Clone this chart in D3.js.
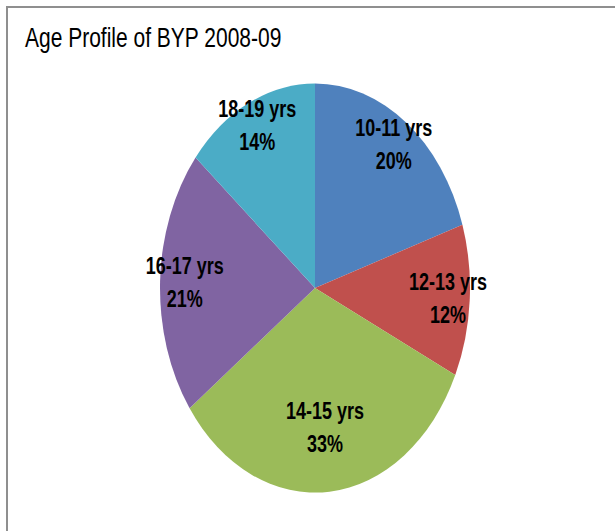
<!DOCTYPE html>
<html>
<head>
<meta charset="utf-8">
<script src="https://cdn.jsdelivr.net/npm/d3@7"></script>
<style>
  body { margin: 0; background: #fff; }
  svg { display: block; }
</style>
</head>
<body>
<script>
// data
var ageBands = ['10-11 yrs', '12-13 yrs', '14-15 yrs', '16-17 yrs', '18-19 yrs'];
var shares = [20, 12, 33, 21, 14];
var sliceColours = ['#4F81BD', '#C0504D', '#9BBB59', '#8064A2', '#4BACC6'];
var chartTitle = 'Age Profile of BYP 2008-09';

var dataset = ageBands.map(function(d, i){
  return { band: d, pct: shares[i] };
});

var w = 615, h = 531;
var stretch = 1.32;         // source picture is stretched vertically
var outerRadius = 155;
var cx = 315, cy = 288;
var labelFrac = [0.865, 0.86, 0.685, 0.84, 0.875]; // best-fit spots

var svg = d3.select('body')
            .append('svg')
            .attr('width', w)
            .attr('height', h);

// outer frame, right and bottom run off the picture
svg.append('rect')
   .attr('x', 7)
   .attr('y', 7)
   .attr('width', 640)
   .attr('height', 560)
   .attr('fill', 'none')
   .attr('stroke', '#8f8f8f')
   .attr('stroke-width', 2);

var root = svg.append('g')
              .attr('transform', 'scale(1,' + stretch + ')');

root.append('text')
    .attr('x', 25)
    .attr('y', 47 / stretch)
    .attr('font-family', 'Liberation Sans, Arial, sans-serif')
    .attr('font-size', '21px')
    .attr('fill', '#000')
    .text(chartTitle);

var pie = d3.pie()
            .sort(null)
            .value(function(d){ return d.pct; });

var arc = d3.arc()
            .innerRadius(0)
            .outerRadius(outerRadius);

var g = root.append('g')
            .attr('transform', 'translate(' + cx + ',' + (cy / stretch) + ')');

var arcs = g.selectAll('g.arc')
            .data(pie(dataset))
            .enter()
            .append('g')
            .attr('class', 'arc');

arcs.append('path')
    .attr('d', arc)
    .attr('fill', function(d, i){ return sliceColours[i]; });

var labels = arcs.append('text')
    .attr('transform', function(d, i){
      var r = outerRadius * labelFrac[i];
      var lab = d3.arc().innerRadius(r).outerRadius(r);
      return 'translate(' + lab.centroid(d) + ')';
    })
    .attr('text-anchor', 'middle')
    .attr('font-family', 'Liberation Sans, Arial, sans-serif')
    .attr('font-weight', 'bold')
    .attr('font-size', '18px')
    .attr('fill', '#000');

labels.append('tspan')
      .attr('x', 0)
      .attr('y', -6.5)
      .text(function(d){ return d.data.band; });

labels.append('tspan')
      .attr('x', 0)
      .attr('y', 18.5)
      .text(function(d){ return d.data.pct + '%'; });
</script>
</body>
</html>
